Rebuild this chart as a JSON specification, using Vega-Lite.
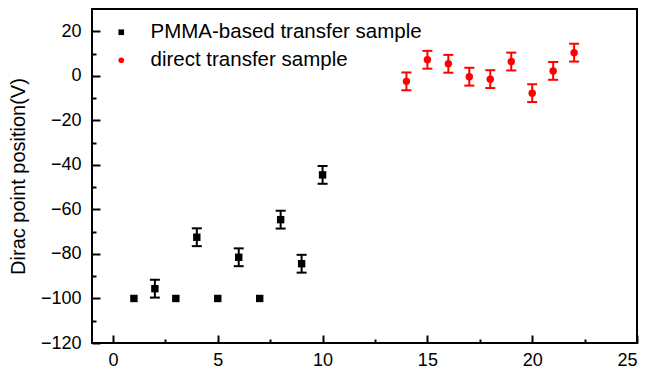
{
  "$schema": "https://vega.github.io/schema/vega-lite/v6.json",
  "width": 545,
  "height": 334,
  "autosize": "none",
  "padding": {"left": 92, "top": 9, "right": 11, "bottom": 27},
  "background": "white",
  "config": {
    "font": "Liberation Sans",
    "view": {"stroke": "black", "strokeWidth": 2},
    "axis": {
      "domain": false,
      "grid": false,
      "tickColor": "black",
      "tickWidth": 2,
      "labelColor": "black",
      "labelFontSize": 18,
      "titleColor": "black",
      "titleFontWeight": "normal"
    },
    "legend": {
      "orient": "none", "legendX": 19, "legendY": 13, "title": null, "padding": 0,
      "labelFontSize": 20.5, "labelColor": "black", "labelLimit": 500, "symbolSize": 32, "rowPadding": 7, "labelOffset": 19,
      "symbolStrokeWidth": 0
    }
  },
  "data": {
    "values": [
      {"x": 1, "y": -100, "err": 0, "series": "PMMA-based transfer sample"},
      {"x": 2, "y": -95.6, "err": 4, "series": "PMMA-based transfer sample"},
      {"x": 3, "y": -100, "err": 0, "series": "PMMA-based transfer sample"},
      {"x": 4, "y": -72.5, "err": 4, "series": "PMMA-based transfer sample"},
      {"x": 5, "y": -100, "err": 0, "series": "PMMA-based transfer sample"},
      {"x": 6, "y": -81.5, "err": 4, "series": "PMMA-based transfer sample"},
      {"x": 7, "y": -100, "err": 0, "series": "PMMA-based transfer sample"},
      {"x": 8, "y": -64.6, "err": 4, "series": "PMMA-based transfer sample"},
      {"x": 9, "y": -84.4, "err": 4, "series": "PMMA-based transfer sample"},
      {"x": 10, "y": -44.5, "err": 4, "series": "PMMA-based transfer sample"},
      {"x": 14, "y": -2.5, "err": 4, "series": "direct transfer sample"},
      {"x": 15, "y": 7.2, "err": 4, "series": "direct transfer sample"},
      {"x": 16, "y": 5.4, "err": 4, "series": "direct transfer sample"},
      {"x": 17, "y": -0.4, "err": 4, "series": "direct transfer sample"},
      {"x": 18, "y": -1.5, "err": 4, "series": "direct transfer sample"},
      {"x": 19, "y": 6.4, "err": 4, "series": "direct transfer sample"},
      {"x": 20, "y": -7.8, "err": 4, "series": "direct transfer sample"},
      {"x": 21, "y": 2.2, "err": 4, "series": "direct transfer sample"},
      {"x": 22, "y": 10.4, "err": 4, "series": "direct transfer sample"}
    ]
  },
  "layer": [
    {
      "mark": {"type": "point", "opacity": 0},
      "encoding": {
        "x": {"field": "x", "type": "quantitative", "scale": {"domain": [-1, 25], "nice": false, "zero": false},
          "axis": {"orient": "bottom", "values": [2.5, 7.5, 12.5, 17.5, 22.5], "labels": false, "tickSize": -4, "title": null}},
        "y": {"field": "y", "type": "quantitative", "scale": {"domain": [-120, 30], "nice": false, "zero": false},
          "axis": {"orient": "left", "values": [-110, -90, -70, -50, -30, -10, 10], "labels": false, "tickSize": -4, "title": null}}
      }
    },
    {
      "transform": [{"filter": "datum.err > 0"}],
      "mark": {"type": "errorbar", "thickness": 2, "rule": {"strokeWidth": 2, "opacity": 1}, "ticks": {"size": 10, "thickness": 2, "opacity": 1}},
      "encoding": {
        "x": {"field": "x", "type": "quantitative", "scale": {"domain": [-1, 25], "nice": false, "zero": false},
          "axis": {"orient": "bottom", "values": [0, 5, 10, 15, 20, 25], "tickSize": -8, "labelPadding": 16, "title": null}},
        "y": {"field": "y", "type": "quantitative", "scale": {"domain": [-120, 30], "nice": false, "zero": false},
          "axis": {"orient": "left", "values": [-120, -100, -80, -60, -40, -20, 0, 20], "tickSize": -8, "labelPadding": 19,
            "title": "Dirac point position(V)", "titleFontSize": 20, "titlePadding": 12}},
        "yError": {"field": "err"},
        "color": {"field": "series", "type": "nominal",
          "scale": {"domain": ["PMMA-based transfer sample", "direct transfer sample"], "range": ["black", "#ff0000"]}}
      }
    },
    {
      "mark": {"type": "point", "filled": true, "opacity": 1, "size": 55},
      "encoding": {
        "x": {"field": "x", "type": "quantitative", "axis": null},
        "y": {"field": "y", "type": "quantitative", "axis": null},
        "color": {"field": "series", "type": "nominal",
          "scale": {"domain": ["PMMA-based transfer sample", "direct transfer sample"], "range": ["black", "#ff0000"]}},
        "shape": {"field": "series", "type": "nominal",
          "scale": {"domain": ["PMMA-based transfer sample", "direct transfer sample"], "range": ["square", "circle"]}}
      }
    }
  ],
  "resolve": {"axis": {"x": "independent", "y": "independent"}}
}
